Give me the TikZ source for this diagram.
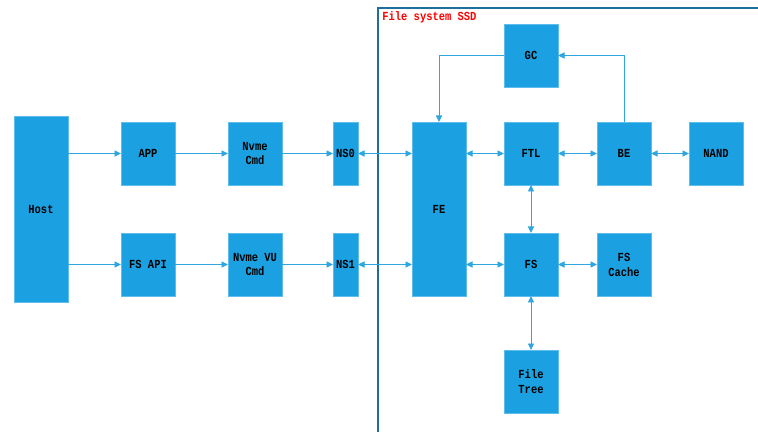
\documentclass[tikz,border=0pt]{standalone}
\usepackage{fontspec}
\newfontfamily\diagfont[FakeStretch=0.85]{Liberation Mono}
\usetikzlibrary{arrows.meta,positioning}
\definecolor{BoxBlue}{HTML}{1BA1E2}
\definecolor{LinkBlue}{HTML}{2FA6E0}
\definecolor{FrameBlue}{HTML}{1F6E9E}
\definecolor{TitleRed}{HTML}{FF0000}

\begin{document}
\begin{tikzpicture}[
      blk/.style={draw=BoxBlue!70!white,fill=BoxBlue,line width=0.4pt,inner sep=0pt,outer sep=0pt,
      minimum width=1.08cm,minimum height=1.26cm,align=center,font=\diagfont\bfseries\fontsize{7}{8.5}\selectfont},
      arr/.style={-{Triangle[length=1.3mm,width=1.2mm]},LinkBlue,line width=0.55pt},
      biarr/.style={{Triangle[length=1.3mm,width=1.2mm]}-{Triangle[length=1.3mm,width=1.2mm]},LinkBlue,line width=0.55pt}]
      \useasboundingbox (0,0) rectangle (15.16,-8.64);
      \draw[FrameBlue,line width=0.6pt] (7.56,-8.64) -- (7.56,-0.16) -- (15.16,-0.16);
      \node[anchor=west,text=TitleRed,font=\diagfont\bfseries\fontsize{7}{8.5}\selectfont,inner sep=0pt] (title) at (7.64,-0.34) {File system SSD};
      \node[blk,minimum height=3.72cm] (host) at (0.82,-4.18) {Host};
      \node[blk,anchor=north west] (app) at ([xshift=1.06cm,yshift=-0.12cm]host.north east) {APP};
      \node[blk,anchor=south west] (fsapi) at ([xshift=1.06cm,yshift=0.12cm]host.south east) {FS API};
      \node[blk,right=1.06cm of app] (nvmecmd) {Nvme\\Cmd};
      \node[blk,right=1.06cm of fsapi] (nvmevu) {Nvme VU\\Cmd};
      \node[blk,right=1.02cm of nvmecmd,minimum width=0.5cm] (ns0) {NS0};
      \node[blk,right=1.02cm of nvmevu,minimum width=0.5cm] (ns1) {NS1};
      \node[blk,anchor=north west,minimum height=3.48cm] (fe) at ([xshift=1.08cm]ns0.north east) {FE};
      \node[blk,anchor=north west] (ftl) at ([xshift=0.76cm]fe.north east) {FTL};
      \node[blk,right=0.78cm of ftl] (be) {BE};
      \node[blk,right=0.76cm of be] (nand) {NAND};
      \node[blk,above=0.7cm of ftl] (gc) {GC};
      \node[blk,anchor=south west] (fs) at ([xshift=0.76cm]fe.south east) {FS};
      \node[blk,right=0.78cm of fs] (fscache) {FS\\Cache};
      \node[blk,below=1.08cm of fs] (filetree) {File\\Tree};
      \draw[arr] (host.east |- app.west) -- (app.west);
      \draw[arr] (host.east |- fsapi.west) -- (fsapi.west);
      \draw[arr] (app) -- (nvmecmd);
      \draw[arr] (fsapi) -- (nvmevu);
      \draw[arr] (nvmecmd) -- (ns0);
      \draw[arr] (nvmevu) -- (ns1);
      \draw[biarr] (ns0.east) -- (ns0.east -| fe.west);
      \draw[biarr] (ns1.east) -- (ns1.east -| fe.west);
      \draw[biarr] (fe.east |- ftl.west) -- (ftl.west);
      \draw[biarr] (fe.east |- fs.west) -- (fs.west);
      \draw[biarr] (ftl) -- (be);
      \draw[biarr] (be) -- (nand);
      \draw[biarr] (ftl) -- (fs);
      \draw[biarr] (fs) -- (fscache);
      \draw[biarr] (fs) -- (filetree);
      \draw[arr] (be.north) |- (gc.east);
      \draw[arr] (gc.west) -| (fe.north);
    \end{tikzpicture}
\end{document}
